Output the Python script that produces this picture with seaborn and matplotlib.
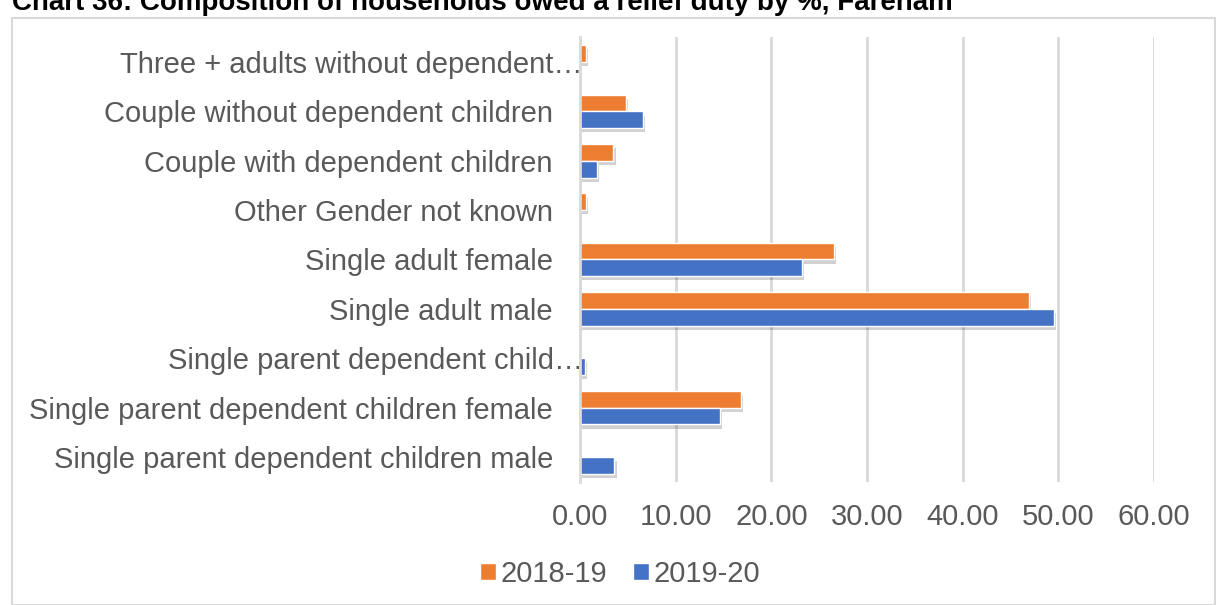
import matplotlib
matplotlib.use("Agg")
import matplotlib.pyplot as plt
import matplotlib.patheffects as pe
import matplotlib.transforms as mtransforms
from matplotlib.patches import Rectangle
from matplotlib.ticker import StrMethodFormatter
import seaborn as sns
import pandas as pd

categories = [
    "Three + adults without dependent…",
    "Couple without dependent children",
    "Couple with dependent children",
    "Other Gender not known",
    "Single adult female",
    "Single adult male",
    "Single parent dependent child…",
    "Single parent dependent children female",
    "Single parent dependent children male",
]
series_names = ["2018-19", "2019-20"]
values_2018_19 = [0.66, 4.84, 3.5, 0.66, 26.55, 46.9, 0.0, 16.8, 0.0]
values_2019_20 = [0.0, 6.6, 1.8, 0.0, 23.2, 49.5, 0.52, 14.6, 3.6]
x_ticks = [0, 10, 20, 30, 40, 50, 60]
title = "Chart 36: Composition of households owed a relief duty by %, Fareham"

colors = {"2018-19": "#ED7D31", "2019-20": "#4472C4"}
text_color = "#595959"
grid_color = "#D9D9D9"

df = pd.DataFrame({
    "category": categories * 2,
    "series": [series_names[0]] * len(categories) + [series_names[1]] * len(categories),
    "value": values_2018_19 + values_2019_20,
})

sns.set_theme(style="white")
plt.rcParams["font.family"] = ["Liberation Sans", "DejaVu Sans"]

fig = plt.figure(figsize=(12.23, 6.05), dpi=100)
W, H = 1223, 605
ax = fig.add_axes([580 / W, 1 - 481.7 / H, (1154 - 580) / W, (481.7 - 37.3) / H])

sns.barplot(data=df, y="category", x="value", hue="series", order=categories,
            hue_order=series_names, palette=colors, orient="h", width=0.68,
            saturation=1, errorbar=None, ax=ax, legend=True)

for p in ax.patches:
    p.set_path_effects([pe.SimplePatchShadow(offset=(1.5, -3), alpha=0.18, shadow_rgbFace="black"), pe.Normal()])

ax.set_xlim(0, 60)
ax.set_xticks(x_ticks)
ax.xaxis.set_major_formatter(StrMethodFormatter("{x:.2f}"))
ax.grid(axis="x", color=grid_color, linewidth=2)
ax.grid(axis="y", visible=False)
ax.set_axisbelow(True)
for s in ["top", "right", "bottom"]:
    ax.spines[s].set_visible(False)
ax.spines["left"].set_color(grid_color)
ax.spines["left"].set_linewidth(2)
ax.set_xlabel("")
ax.set_ylabel("")
ax.tick_params(axis="both", length=0, labelsize=21, labelcolor=text_color)
ax.tick_params(axis="y", pad=19.5)
ax.tick_params(axis="x", pad=15)

# Excel-style truncated labels extend toward the axis
for lab in ax.get_yticklabels():
    if lab.get_text().endswith("…"):
        lab.set_transform(lab.get_transform() + mtransforms.ScaledTranslation(30 / 100, 0, fig.dpi_scale_trans))

leg = ax.legend(loc="center", bbox_to_anchor=(620 / W, 1 - 574 / H), bbox_transform=fig.transFigure,
                ncol=2, frameon=False, fontsize=21, handlelength=0.55, handleheight=0.55,
                handletextpad=0.15, columnspacing=0.9)
for t in leg.get_texts():
    t.set_color(text_color)
for h in leg.legend_handles:
    h.set_path_effects([pe.Normal()])

fig.patches.append(Rectangle((12 / W, 0), (1215 - 12) / W, 1 - 18 / H, transform=fig.transFigure,
                             fill=False, edgecolor=grid_color, linewidth=1.5))
fig.text(12 / W, 1 - 10 / H, title, ha="left", va="baseline", fontsize=20, fontweight="bold", color="black")

fig.savefig("out.png", dpi=100)
